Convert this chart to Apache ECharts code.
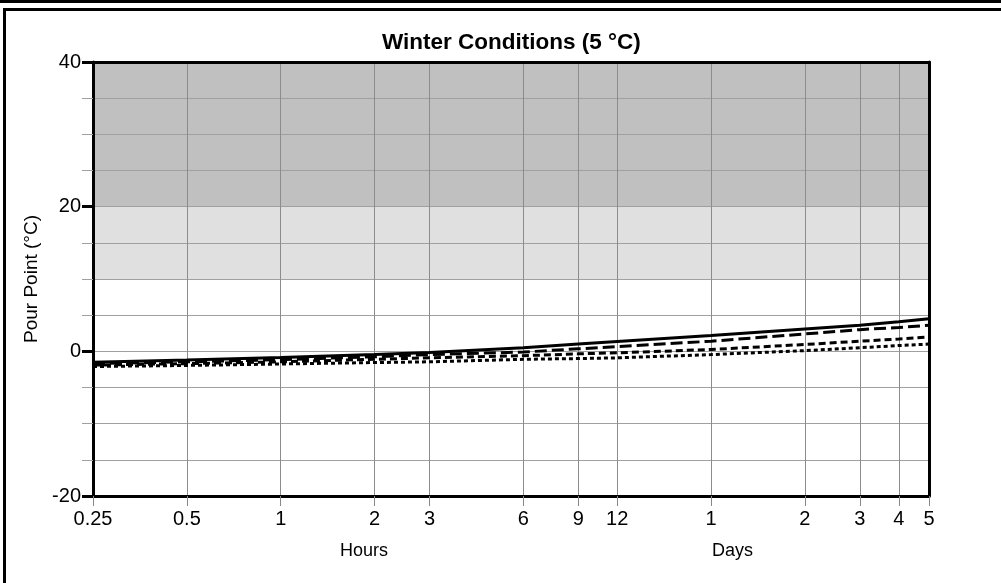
<!DOCTYPE html>
<html>
<head>
<meta charset="utf-8">
<script src="https://cdn.jsdelivr.net/npm/echarts@6/dist/echarts.min.js"></script>
<style>html,body{margin:0;padding:0;background:#fff}#c{width:1001px;height:583px}</style>
</head>
<body>
<div id="c"></div>
<script>
// Time in hours (log axis)
const hours = [0.25, 0.5, 1, 2, 3, 6, 9, 12, 24, 48, 72, 96, 120];
const tickLabels = ['0.25', '0.5', '1', '2', '3', '6', '9', '12', '1', '2', '3', '4', '5'];
// Pour point (°C) series
const seriesSolid  = [-1.5, -1.2, -0.85, -0.45, -0.15, 0.5, 1.0, 1.35, 2.2, 3.1, 3.6, 4.1, 4.5];
const seriesLong   = [-1.7, -1.45, -1.15, -0.75, -0.45, -0.1, 0.35, 0.65, 1.4, 2.4, 3.0, 3.3, 3.6];
const seriesMedium = [-1.9, -1.7, -1.45, -1.1, -0.9, -0.6, -0.35, -0.2, 0.25, 0.95, 1.4, 1.7, 2.0];
const seriesShort  = [-2.1, -1.95, -1.75, -1.55, -1.45, -1.1, -1.0, -0.9, -0.45, 0.1, 0.5, 0.8, 1.0];
const bandDark = [20, 40];
const bandLight = [10, 20];

const chart = echarts.init(document.getElementById('c'), null, {renderer: 'canvas'});
const FONT = 'Liberation Sans, Arial, sans-serif';
function pairs(ys) { return hours.map((h, i) => [h, ys[i]]); }
function labelFor(v) {
  for (let i = 0; i < hours.length; i++) if (Math.abs(hours[i] - v) < 1e-6 * Math.max(1, v)) return tickLabels[i];
  return '';
}
function lineSeries(name, ys, type) {
  return {
    name: name, type: 'line', data: pairs(ys), symbol: 'none', z: 5,
    lineStyle: {color: '#000', width: 3, type: type}
  };
}
const option = {
  animation: false,
  backgroundColor: '#fff',
  title: {
    text: 'Winter Conditions (5 °C)', left: 377, top: 26,
    textStyle: {fontFamily: FONT, fontWeight: 'bold', fontSize: 22.5, color: '#000'}
  },
  grid: {left: 93, right: 72, top: 62, bottom: 87},
  xAxis: [{
    type: 'log', logBase: 2, min: 0.25, max: 120, z: 3,
    axisLine: {show: true, onZero: false, lineStyle: {color: '#000', width: 3}},
    axisTick: {show: true, customValues: hours, length: 10, lineStyle: {color: '#888', width: 1}},
    axisLabel: {customValues: hours, formatter: labelFor, fontFamily: FONT, fontSize: 20, color: '#000', margin: 13},
    splitLine: {show: true, lineStyle: {color: '#8c8c8c', width: 1}},
    minorTick: {show: false}, minorSplitLine: {show: false}
  }, {
    type: 'log', logBase: 2, min: 0.25, max: 120, position: 'top', z: 3,
    axisLine: {show: true, onZero: false, lineStyle: {color: '#000', width: 3}},
    axisTick: {show: false}, axisLabel: {show: false}, splitLine: {show: false}
  }],
  yAxis: [{
    type: 'value', min: -20, max: 40, interval: 20, z: 3,
    name: 'Pour Point (°C)', nameLocation: 'middle', nameGap: 51,
    nameTextStyle: {fontFamily: FONT, fontSize: 19, color: '#000'},
    axisLine: {show: true, onZero: false, lineStyle: {color: '#000', width: 3}},
    axisTick: {show: true, length: 11, lineStyle: {color: '#000', width: 3}},
    axisLabel: {fontFamily: FONT, fontSize: 20, color: '#000', margin: 12},
    splitLine: {show: true, lineStyle: {color: '#a0a0a0', width: 1}},
    minorTick: {show: true, splitNumber: 4, length: 11, lineStyle: {color: '#a0a0a0', width: 1}},
    minorSplitLine: {show: true, lineStyle: {color: '#a0a0a0', width: 1}}
  }, {
    type: 'value', min: -20, max: 40, interval: 20, position: 'right', z: 3,
    axisLine: {show: true, onZero: false, lineStyle: {color: '#000', width: 3}},
    axisTick: {show: false}, axisLabel: {show: false}, splitLine: {show: false}
  }],
  series: [
    {
      name: 'bands', type: 'line', data: [], z: 0, silent: true,
      markArea: {
        silent: true,
        data: [
          [{yAxis: bandDark[0], itemStyle: {color: '#c0c0c0'}}, {yAxis: bandDark[1]}],
          [{yAxis: bandLight[0], itemStyle: {color: '#e0e0e0'}}, {yAxis: bandLight[1]}]
        ]
      }
    },
    lineSeries('A', seriesSolid, 'solid'),
    lineSeries('B', seriesLong, [12, 5]),
    lineSeries('C', seriesMedium, [7, 4]),
    lineSeries('D', seriesShort, [4, 3])
  ],
  graphic: [
    {type: 'rect', shape: {x: 0, y: 0, width: 1001, height: 3}, style: {fill: '#000'}},
    {type: 'rect', shape: {x: 3, y: 8, width: 998, height: 3}, style: {fill: '#000'}},
    {type: 'rect', shape: {x: 3, y: 8, width: 3, height: 575}, style: {fill: '#000'}},
    {type: 'text', left: 340, top: 542, style: {text: 'Hours', font: '18px ' + FONT, fill: '#000'}},
    {type: 'text', left: 712, top: 542, style: {text: 'Days', font: '18px ' + FONT, fill: '#000'}}
  ]
};
chart.setOption(option);
</script>
</body>
</html>
